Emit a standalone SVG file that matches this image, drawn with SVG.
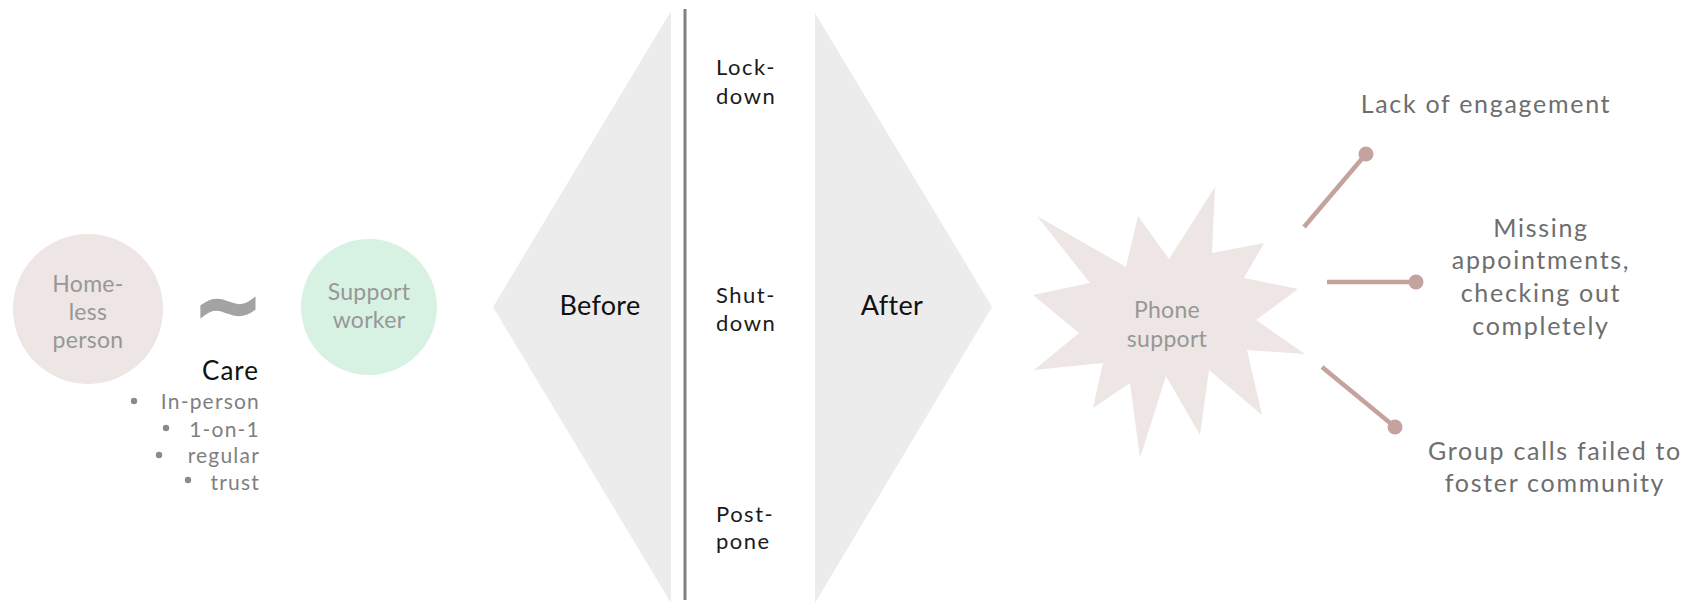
<svg xmlns="http://www.w3.org/2000/svg" width="1692" height="603" viewBox="0 0 1692 603">
<style>
text{font-family:Lato,"Open Sans","Liberation Sans",sans-serif}
.nlab{font-size:23px;fill:#979797;text-anchor:middle;letter-spacing:0.3px}
.blk{fill:#111;text-anchor:middle;font-size:27px;letter-spacing:0.3px}
.ev{fill:#1a1a1a;font-size:22px;letter-spacing:1.5px}
.out{fill:#6e6e6e;font-size:25px;text-anchor:middle;letter-spacing:1.7px}
.li{fill:#7f7f7f;font-size:21px;text-anchor:end;letter-spacing:1.2px}
.conn{stroke:#c4a39e;stroke-width:4.5;fill:none}
.dot{fill:#c4a39e}
.bul{fill:#8a8a8a}
</style>
<rect width="1692" height="603" fill="#fff"/>
<g id="homeless">
<circle cx="88" cy="309" r="75" fill="#ede6e4"/>
<text class="nlab" x="88" y="292">Home-</text>
<text class="nlab" x="88" y="320">less</text>
<text class="nlab" x="88" y="348">person</text>
</g>
<g id="tilde">
<text x="228" y="334" font-weight="bold" font-size="84" fill="#a3a3a3" stroke="#a3a3a3" stroke-width="2.5" text-anchor="middle" style="font-family:'DejaVu Sans',sans-serif">~</text>
</g>
<g id="worker">
<circle cx="369" cy="307" r="68" fill="#d7f2e3"/>
<text class="nlab" x="369" y="300">Support</text>
<text class="nlab" x="369" y="328">worker</text>
</g>
<g id="care">
<text x="259" y="380" font-size="26" fill="#111" text-anchor="end" letter-spacing="1">Care</text>
<text class="li" x="260" y="409">In-person</text>
<text class="li" x="260" y="437">1-on-1</text>
<text class="li" x="260" y="463">regular</text>
<text class="li" x="260" y="490">trust</text>
<circle class="bul" cx="134" cy="401" r="3.2"/>
<circle class="bul" cx="166" cy="428" r="3.2"/>
<circle class="bul" cx="159" cy="455" r="3.2"/>
<circle class="bul" cx="188" cy="480" r="3.2"/>
</g>
<g id="before">
<polygon points="671,11 493,307 671,603" fill="#ececec"/>
<text class="blk" x="600" y="315">Before</text>
</g>
<g id="timeline">
<line x1="685" y1="9" x2="685" y2="600" stroke="#808080" stroke-width="3"/>
<text class="ev" x="716" y="75">Lock-</text>
<text class="ev" x="716" y="104">down</text>
<text class="ev" x="716" y="303">Shut-</text>
<text class="ev" x="716" y="331">down</text>
<text class="ev" x="716" y="522">Post-</text>
<text class="ev" x="716" y="549">pone</text>
</g>
<g id="after">
<polygon points="815,13 992,307 815,603" fill="#ececec"/>
<text class="blk" x="892" y="315">After</text>
</g>
<g id="phone">
<polygon points="1037,216 1126,267 1138,216 1169,259 1215,187 1212,253 1264,243 1244,278 1298,289 1256,320 1305,354 1247,350 1262,415 1209,370 1200,435 1166,376 1140,458 1130,383 1093,408 1103,363 1034,370 1079,333 1033,295 1090,283" fill="#ede6e4"/>
<text class="nlab" x="1167" y="318" fill="#8c8c8c">Phone</text>
<text class="nlab" x="1167" y="347" fill="#8c8c8c">support</text>
</g>
<g id="connectors">
<line class="conn" x1="1304" y1="227" x2="1366" y2="154"/>
<circle class="dot" cx="1366" cy="154" r="7.5"/>
<line class="conn" x1="1327" y1="282" x2="1416" y2="282"/>
<circle class="dot" cx="1416" cy="282" r="7.5"/>
<line class="conn" x1="1322" y1="367" x2="1395" y2="427"/>
<circle class="dot" cx="1395" cy="427" r="7.5"/>
</g>
<g id="out1">
<text class="out" x="1486" y="113">Lack of engagement</text>
</g>
<g id="out2">
<text class="out" x="1541" y="237">Missing</text>
<text class="out" x="1541" y="269">appointments,</text>
<text class="out" x="1541" y="302">checking out</text>
<text class="out" x="1541" y="335">completely</text>
</g>
<g id="out3">
<text class="out" x="1555" y="460">Group calls failed to</text>
<text class="out" x="1555" y="492">foster community</text>
</g>
</svg>
